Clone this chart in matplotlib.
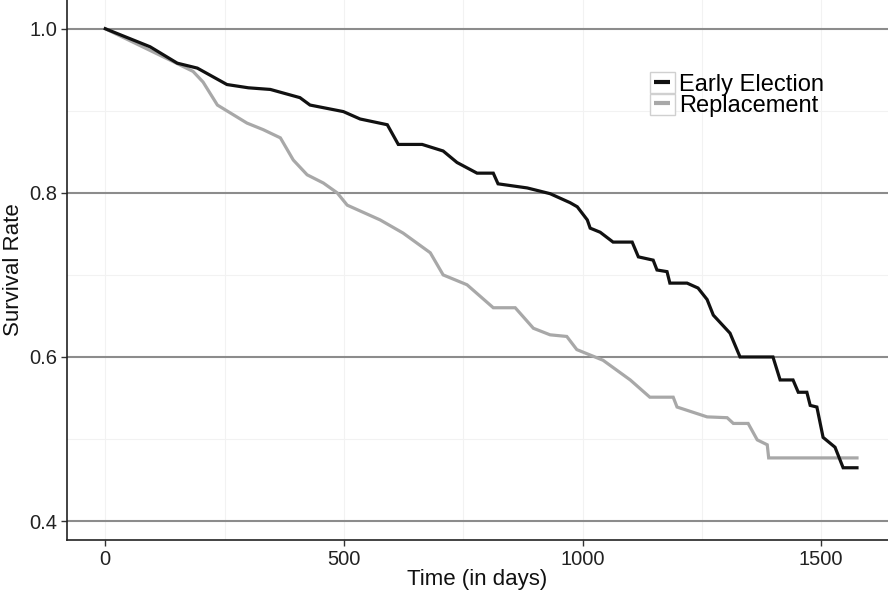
import matplotlib
matplotlib.use("Agg")
import matplotlib.pyplot as plt
from matplotlib.ticker import MultipleLocator
from matplotlib.patches import Rectangle
from matplotlib.lines import Line2D
from matplotlib.legend_handler import HandlerTuple

plt.rcParams['font.family'] = ['Liberation Sans', 'DejaVu Sans']

# survival curve vertices (time in days, survival rate)
early_t = [0, 94, 151, 193, 255, 300, 346, 408, 429, 499, 534, 591, 614, 664, 708,
           737, 779, 813, 823, 884, 932, 974, 989, 1010, 1016, 1037, 1064, 1104,
           1117, 1148, 1156, 1177, 1183, 1219, 1242, 1261, 1274, 1309, 1330, 1399,
           1414, 1441, 1452, 1470, 1477, 1491, 1504, 1529, 1546, 1575]
early_s = [1.0, 0.978, 0.958, 0.952, 0.932, 0.928, 0.926, 0.916, 0.907, 0.899,
           0.890, 0.883, 0.859, 0.859, 0.851, 0.837, 0.824, 0.824, 0.811, 0.806,
           0.799, 0.788, 0.783, 0.767, 0.757, 0.752, 0.740, 0.740, 0.722, 0.718,
           0.706, 0.704, 0.690, 0.690, 0.684, 0.670, 0.651, 0.629, 0.600, 0.600,
           0.572, 0.572, 0.557, 0.557, 0.541, 0.539, 0.502, 0.490, 0.465, 0.465]

repl_t = [0, 142, 184, 205, 235, 297, 331, 367, 394, 423, 457, 486, 507, 576, 624,
          681, 708, 758, 813, 859, 897, 932, 967, 988, 1043, 1100, 1141, 1190, 1198,
          1261, 1303, 1316, 1347, 1366, 1387, 1390, 1575]
repl_s = [1.0, 0.960, 0.948, 0.935, 0.907, 0.885, 0.877, 0.867, 0.840, 0.822,
          0.812, 0.800, 0.785, 0.767, 0.751, 0.727, 0.700, 0.688, 0.660, 0.660,
          0.635, 0.627, 0.625, 0.609, 0.596, 0.572, 0.551, 0.551, 0.539, 0.527,
          0.526, 0.519, 0.519, 0.499, 0.493, 0.477, 0.477]

early_col = '#111111'
repl_col = '#a8a8a8'

fig = plt.figure(figsize=(8.88, 5.96), dpi=100)
ax = fig.add_axes([0.0755, 0.094, 0.9245, 0.906])

ax.plot(repl_t, repl_s, color=repl_col, lw=2.3, solid_joinstyle='miter')
ax.plot(early_t, early_s, color=early_col, lw=2.3, solid_joinstyle='miter')

ax.set_xlim(-80, 1640)
ax.set_ylim(0.377, 1.035)
ax.xaxis.set_major_locator(MultipleLocator(500))
ax.xaxis.set_minor_locator(MultipleLocator(250))
ax.yaxis.set_major_locator(MultipleLocator(0.2))
ax.yaxis.set_minor_locator(MultipleLocator(0.1))
ax.yaxis.set_major_formatter(plt.FuncFormatter(lambda v, p: f"{v:.1f}"))

ax.grid(axis='y', which='major', color='#8c8c8c', lw=1.5, zorder=0)
ax.grid(axis='y', which='minor', color='#f2f2f2', lw=0.8, zorder=0)
ax.grid(axis='x', which='both', color='#f2f2f2', lw=0.8, zorder=0)
ax.set_axisbelow(True)

for side in ['top', 'right']:
    ax.spines[side].set_visible(False)
for side in ['left', 'bottom']:
    ax.spines[side].set_color('#222222')
    ax.spines[side].set_linewidth(1.2)

ax.tick_params(which='major', length=4, width=1, color='#333333', labelsize=14.5,
               labelcolor='#222222', pad=3)
ax.tick_params(which='minor', length=0)

ax.set_xlabel('Time (in days)', fontsize=16, labelpad=0, color='#111111')
ax.set_ylabel('Survival Rate', fontsize=16, labelpad=4, color='#111111')

# legend keys: short line inside a light grey box
def key(col):
    box = Rectangle((0, 0), 1, 1, fc='white', ec='#d0d0d0', lw=1)
    seg = Line2D([], [], color=col, marker='_', markersize=11, mew=3, linestyle='None')
    return (box, seg)

leg = ax.legend([key(early_col), key(repl_col)], ['Early Election', 'Replacement'],
                handler_map={tuple: HandlerTuple(ndivide=1, pad=0)},
                loc='upper left', bbox_to_anchor=(0.6955, 0.888), frameon=False,
                fontsize=17, handlelength=1.05, handleheight=1.0, handletextpad=0.2,
                labelspacing=-0.1, borderpad=0)

fig.savefig('out.png', dpi=100, facecolor='white')
